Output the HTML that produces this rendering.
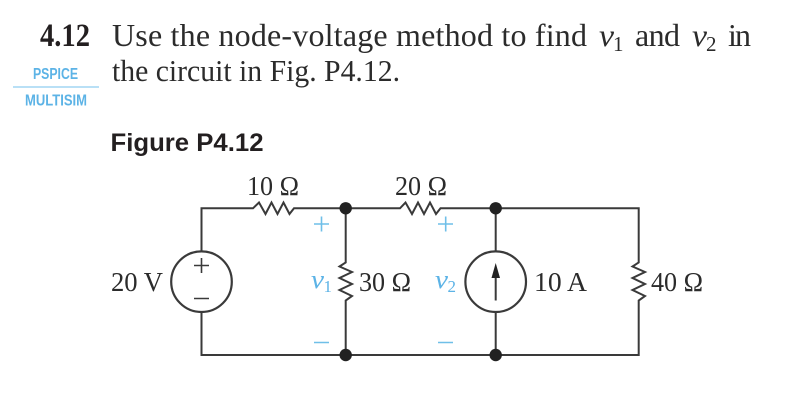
<!DOCTYPE html>
<html><head><meta charset="utf-8"><style>
html,body{margin:0;padding:0;background:#fff;width:790px;height:404px;overflow:hidden}
svg{display:block;filter:blur(0.35px)}
.s{font-family:"Liberation Serif",serif;fill:#2b2b2b}
.h{font-family:"Liberation Sans",sans-serif;font-weight:bold}
</style></head><body>
<svg width="790" height="404" viewBox="0 0 790 404" xmlns="http://www.w3.org/2000/svg">
<rect width="790" height="404" fill="#fff"/>
<text class="s" x="40" y="46" font-size="33" font-weight="bold" textLength="50" lengthAdjust="spacingAndGlyphs" style="fill:#231f20">4.12</text>
<text class="s" x="112" y="46" font-size="32" textLength="475" lengthAdjust="spacing">Use the node-voltage method to find</text>
<text class="s" x="599" y="46" font-size="32" font-style="italic" textLength="15" lengthAdjust="spacingAndGlyphs">v</text>
<text class="s" x="613" y="51" font-size="21">1</text>
<text class="s" x="635" y="46" font-size="32" textLength="45" lengthAdjust="spacing">and</text>
<text class="s" x="692" y="46" font-size="32" font-style="italic" textLength="15" lengthAdjust="spacingAndGlyphs">v</text>
<text class="s" x="706" y="51" font-size="21">2</text>
<text class="s" x="728" y="46" font-size="32" textLength="23" lengthAdjust="spacing">in</text>
<text class="s" x="112" y="81" font-size="31" textLength="288" lengthAdjust="spacingAndGlyphs">the circuit in Fig. P4.12.</text>
<text class="h" x="33" y="79" font-size="15.500" fill="#5cb3e6" textLength="45" lengthAdjust="spacingAndGlyphs">PSPICE</text>
<line x1="13" y1="87" x2="99" y2="87" stroke="#8fcdf0" stroke-width="1.200"/>
<text class="h" x="25" y="105.500" font-size="16" fill="#5cb3e6" textLength="62" lengthAdjust="spacingAndGlyphs">MULTISIM</text>
<text class="h" x="110.500" y="151" font-size="25" fill="#231f20" textLength="153" lengthAdjust="spacingAndGlyphs">Figure P4.12</text>

<g fill="none" stroke="#3a3a3a" stroke-width="2" stroke-linejoin="miter">
<path d="M201.500 250.700V208.300H253L259 202.500L265.500 214L271.500 202.500L277.500 214L283.500 202.500L289.500 214L294 208.300H345.700"/>
<path d="M345.700 208.300H400L405.500 202.500L412 214L418 202.500L424 214L430 202.500L436 214L440.500 208.300H495.700H638.700V262.500L632.500 266.500L645 272L632.500 278L645 284L632.500 290L645 296L638.700 300.500V355H201.500V312.700"/>
<path d="M345.700 208.300V262.500L339.500 266.500L352 272L339.500 278L352 284L339.500 290L352 296L345.700 300.500V355"/>
<path d="M495.700 208.300V250.700M495.700 312.700V355"/>
<path d="M495.700 300.500V276"/>
<circle cx="201.500" cy="281.700" r="30.300" stroke-width="2.200"/>
<circle cx="495.700" cy="281.700" r="30.300" stroke-width="2.200"/>
<path d="M194 265.500H209M201.500 258V273M194 298.500H209" stroke-width="1.600"/>
</g>
<path d="M495.700 263L491.500 278H500Z" fill="#222"/>
<g fill="#222"><circle cx="345.700" cy="208.300" r="6.200"/><circle cx="495.700" cy="208.300" r="6.200"/><circle cx="345.700" cy="355" r="6.200"/><circle cx="495.700" cy="355" r="6.200"/></g>

<g stroke="#6fbfe8" stroke-width="1.600" fill="none">
<path d="M314 224H329M321.500 216.500V231.500M314 342.500H329M438 224H453M445.700 216.500V231.500M438 342.500H453"/>
</g>
<text class="s" x="247" y="195" font-size="27" textLength="52" lengthAdjust="spacingAndGlyphs">10 Ω</text>
<text class="s" x="395" y="195" font-size="27" textLength="52" lengthAdjust="spacingAndGlyphs">20 Ω</text>
<text class="s" x="111" y="291" font-size="27" textLength="52" lengthAdjust="spacingAndGlyphs">20 V</text>
<text class="s" x="359" y="291" font-size="27" textLength="52" lengthAdjust="spacingAndGlyphs">30 Ω</text>
<text class="s" x="534" y="291" font-size="27" textLength="53" lengthAdjust="spacingAndGlyphs">10 A</text>
<text class="s" x="651" y="291" font-size="27" textLength="52" lengthAdjust="spacingAndGlyphs">40 Ω</text>
<text class="s" x="311" y="288" font-size="26" font-style="italic" textLength="13" lengthAdjust="spacingAndGlyphs" style="fill:#5cb3e6">v</text>
<text class="s" x="323.500" y="292" font-size="17" style="fill:#5cb3e6">1</text>
<text class="s" x="435" y="288" font-size="26" font-style="italic" textLength="13" lengthAdjust="spacingAndGlyphs" style="fill:#5cb3e6">v</text>
<text class="s" x="447.500" y="292" font-size="17" style="fill:#5cb3e6">2</text>
</svg>
</body></html>
